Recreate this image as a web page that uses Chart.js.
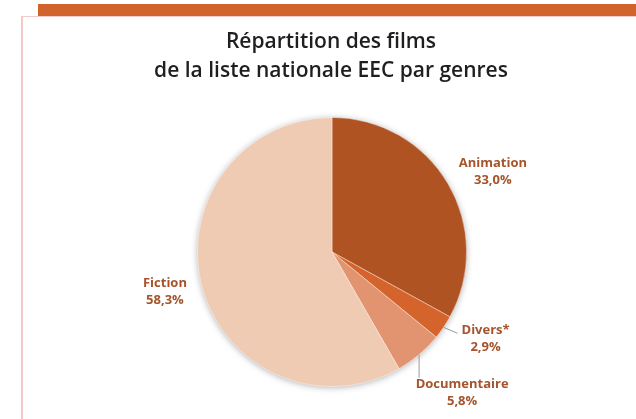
<!DOCTYPE html>
<html><head><meta charset="utf-8">
<script src="https://cdn.jsdelivr.net/npm/chart.js@4.4.1/dist/chart.umd.min.js"></script>
<style>
html,body{margin:0;padding:0;background:#fff;}
#wrap{position:relative;width:636px;height:419px;overflow:hidden;}
#bar{position:absolute;left:38px;top:4px;width:598px;height:12px;background:#D2632D;}
#card{position:absolute;left:21px;top:16px;width:640px;height:420px;border-left:2px solid #F3CACA;border-top:1px solid #F3CACA;}
#c{position:absolute;left:0;top:0;}
</style></head>
<body><div id="wrap"><div id="card"></div><div id="bar"></div><canvas id="c" width="636" height="419"></canvas></div>
<script>
const titleLines = ['Répartition des films', 'de la liste nationale EEC par genres'];
const genres = ['Animation', 'Divers*', 'Documentaire', 'Fiction'];
const shares = [33.0, 2.9, 5.8, 58.3];
const colors = ['#AF5323', '#D4642C', '#E29470', '#F0CBB3'];

// label placement relative to slice edge at mid-angle (style/position settings)
const labelCfg = [
  {dx: 45, dy: -20, leader: false},
  {dx: 42, dy: 3, leader: true, lx: 14, ly: 6},
  {dx: 43, dy: 30, leader: true, lx: 0, ly: 23},
  {dx: -37, dy: -3, leader: false}
];

const fmt = v => v.toFixed(1).replace('.', ',') + '%';

const deco = {
  id: 'deco',
  beforeDatasetsDraw(chart) {
    const arc = chart.getDatasetMeta(0).data[0];
    if (!arc) return;
    const ctx = chart.ctx;
    ctx.save();
    ctx.shadowColor = 'rgba(0,0,0,0.35)';
    ctx.shadowBlur = 7;
    ctx.shadowOffsetX = 0;
    ctx.shadowOffsetY = 1;
    ctx.beginPath();
    ctx.arc(arc.x, arc.y, arc.outerRadius - 0.5, 0, Math.PI * 2);
    ctx.fillStyle = '#F0CBB3';
    ctx.fill();
    ctx.restore();
  },
  afterDraw(chart) {
    const ctx = chart.ctx;
    ctx.save();
    ctx.textAlign = 'center';
    ctx.textBaseline = 'middle';
    ctx.fillStyle = '#1f1f1f';
    ctx.font = '600 21px "Open Sans", Lato, sans-serif';
    ctx.fillText(titleLines[0], 331, 42);
    ctx.fillText(titleLines[1], 331, 71);
    const meta = chart.getDatasetMeta(0);
    meta.data.forEach((a, i) => {
      const mid = (a.startAngle + a.endAngle) / 2;
      const ex = a.x + Math.cos(mid) * a.outerRadius;
      const ey = a.y + Math.sin(mid) * a.outerRadius;
      const c = labelCfg[i];
      if (c.leader) {
        ctx.strokeStyle = '#9a9a9a';
        ctx.lineWidth = 1;
        ctx.beginPath();
        ctx.moveTo(ex, ey);
        ctx.lineTo(ex + c.lx, ey + c.ly);
        ctx.stroke();
      }
      const lx = ex + c.dx, ly = ey + c.dy;
      ctx.fillStyle = '#A5542C';
      ctx.font = 'bold 13px "Open Sans", Lato, sans-serif';
      ctx.fillText(genres[i], lx, ly);
      ctx.fillText(fmt(shares[i]), lx, ly + 17);
    });
    ctx.restore();
  }
};

new Chart(document.getElementById('c'), {
  type: 'pie',
  data: {
    labels: genres,
    datasets: [{
      data: shares,
      backgroundColor: colors,
      borderColor: 'rgba(255,255,255,0.5)',
      borderWidth: 0.8
    }]
  },
  options: {
    responsive: false,
    animation: false,
    layout: {padding: {top: 117, bottom: 32, left: 197, right: 169}},
    plugins: {legend: {display: false}, tooltip: {enabled: false}, title: {display: false}}
  },
  plugins: [deco]
});
</script></body></html>
